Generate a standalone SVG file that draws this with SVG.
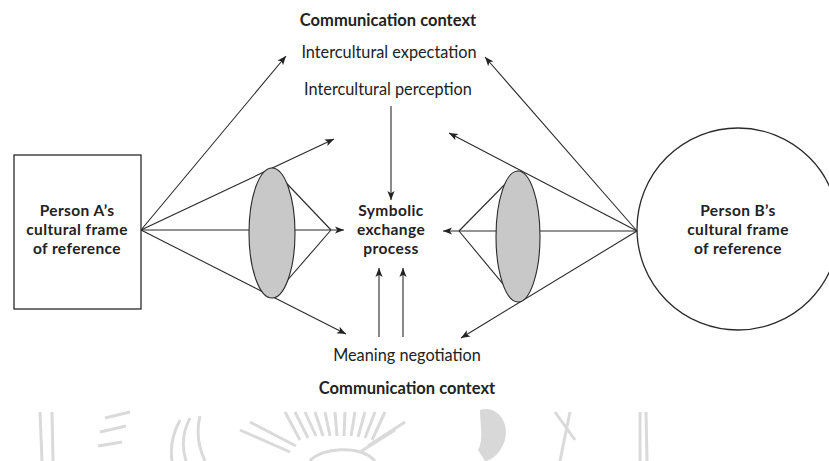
<svg xmlns="http://www.w3.org/2000/svg" width="829" height="461" viewBox="0 0 829 461">
<defs>
<marker id="ah" viewBox="0 0 10 10" refX="10" refY="5" markerWidth="9" markerHeight="9" markerUnits="userSpaceOnUse" orient="auto">
<path d="M0,1 L10,5 L0,9 L2.5,5 Z" fill="#222"/>
</marker>
<style>
.ln{stroke:#2a2a2a;stroke-width:1.1;fill:none}
.ar{marker-end:url(#ah)}
.lens{fill:#c8c8c8;stroke:#2a2a2a;stroke-width:1.1}
.box{fill:#fff;stroke:#2a2a2a;stroke-width:1.3}
.t{font-family:Lato,"Open Sans","Liberation Sans",sans-serif;font-size:16.3px;fill:#222;text-anchor:middle}
.b{font-weight:bold;font-size:16.5px}
.m{font-weight:bold;font-size:15.5px;letter-spacing:0.4px}
.wm{stroke:#dadada;stroke-width:3;fill:none}
</style>
</defs>
<rect width="829" height="461" fill="#fff"/>

<g id="watermark">
<path class="wm" d="M40,412 L42,461 M52,412 L53,461 M640,412 L640,461 M646,412 L647,461"/>
<path class="wm" d="M105,418 L130,412 M100,432 L126,426 M98,446 L122,442"/>
<path class="wm" d="M180,420 C172,435 170,448 172,461 M190,418 C182,433 182,448 186,461 M200,416 C196,432 198,446 205,461"/>
<path class="wm" d="M285,412 L300,440 M295,412 L308,438 M305,412 L316,436 M315,412 L323,436 M325,412 L330,436 M335,412 L337,436 M345,412 L344,436 M355,412 L351,436 M365,412 L358,437 M375,412 L365,438 M385,412 L372,440 M240,430 L290,452 M250,422 L296,446 M395,430 L360,452 M405,422 L368,446"/>
<path class="wm" d="M310,461 C320,448 360,444 375,461"/>
<path fill="#d8d8d8" d="M480,410 C495,405 510,420 505,440 C500,455 490,461 485,461 L478,450 C484,440 480,425 480,410 Z"/>
<path class="wm" d="M555,412 L575,440 M570,412 L560,461"/>
</g>

<g id="connectors">
<line class="ln ar" x1="141" y1="230" x2="286" y2="56"/>
<line class="ln ar" x1="141" y1="230" x2="334" y2="139"/>
<line class="ln" x1="141" y1="230" x2="249" y2="230"/>
<line class="ln ar" x1="141" y1="230" x2="346" y2="334"/>
<line class="ln" x1="272" y1="168" x2="331" y2="230"/>
<line class="ln" x1="272" y1="298" x2="331" y2="230"/>
<line class="ln ar" x1="295" y1="230" x2="344" y2="230"/>

<line class="ln ar" x1="637" y1="231" x2="485" y2="57"/>
<line class="ln ar" x1="637" y1="231" x2="449" y2="133"/>
<line class="ln" x1="637" y1="231" x2="540" y2="231"/>
<line class="ln ar" x1="637" y1="231" x2="461" y2="338"/>
<line class="ln" x1="518" y1="171" x2="459" y2="231"/>
<line class="ln" x1="518" y1="302" x2="459" y2="231"/>
<line class="ln ar" x1="497" y1="231" x2="443" y2="231"/>

<line class="ln ar" x1="391" y1="106" x2="391" y2="200"/>
<line class="ln ar" x1="379" y1="337" x2="379" y2="268"/>
<line class="ln ar" x1="403" y1="337" x2="403" y2="268"/>
</g>

<g id="lensA"><ellipse class="lens" cx="272" cy="233" rx="23" ry="65"/></g>
<g id="lensB"><ellipse class="lens" cx="518" cy="236.5" rx="22" ry="65.5"/></g>

<g id="personA">
<rect class="box" x="14" y="155" width="127" height="154"/>
<text class="t m" x="77" y="216">Person A’s</text>
<text class="t m" x="77" y="234.8">cultural frame</text>
<text class="t m" x="77" y="253.6">of reference</text>
</g>

<g id="personB">
<circle class="box" cx="738" cy="229" r="101"/>
<text class="t m" x="738" y="216">Person B’s</text>
<text class="t m" x="738" y="234.8">cultural frame</text>
<text class="t m" x="738" y="253.6">of reference</text>
</g>

<g id="symbolic">
<text class="t m" x="391" y="216">Symbolic</text>
<text class="t m" x="391" y="234.8">exchange</text>
<text class="t m" x="391" y="253.6">process</text>
</g>

<g id="context-top"><text class="t b" x="388" y="26">Communication context</text></g>
<g id="expectation"><text class="t" x="389" y="58">Intercultural expectation</text></g>
<g id="perception"><text class="t" x="388" y="95">Intercultural perception</text></g>
<g id="negotiation"><text class="t" x="407" y="361">Meaning negotiation</text></g>
<g id="context-bottom"><text class="t b" x="407" y="394">Communication context</text></g>
</svg>
